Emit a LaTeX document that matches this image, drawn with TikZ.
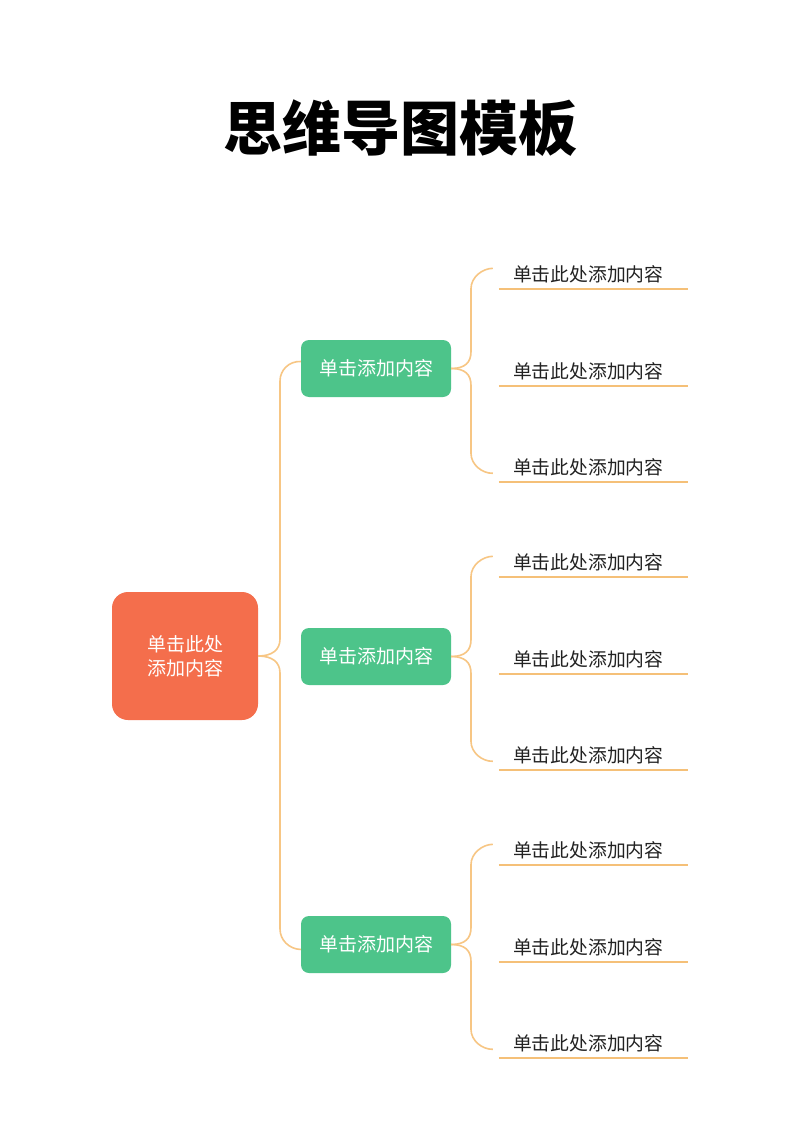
\documentclass[tikz,border=0pt]{standalone}
\usepackage{fontspec}
\setmainfont{Noto Sans CJK SC}
\usetikzlibrary{calc}
\definecolor{rootc}{HTML}{F46E4C}
\definecolor{greenc}{HTML}{4DC48A}
\definecolor{connc}{HTML}{F7C684}
\definecolor{linec}{HTML}{F5C078}
\definecolor{leaftext}{HTML}{222222}
\begin{document}
\begin{tikzpicture}[x=1pt,y=-1pt,
  titlestyle/.style={font=\fontsize{59}{64}\selectfont\bfseries, text=black, inner sep=0pt},
  rootbox/.style={fill=rootc, rounded corners=16pt, minimum width=146pt, minimum height=128pt,
    inner sep=0pt, text=white, align=center, font=\fontsize{19}{24}\selectfont},
  greenbox/.style={fill=greenc, rounded corners=8pt, minimum width=150pt, minimum height=57pt,
    inner sep=0pt, text=white, font=\fontsize{19}{24}\selectfont},
  leafbox/.style={anchor=south, minimum height=29pt, text width=161pt, inner xsep=14pt, inner ysep=0pt,
    align=left, text=leaftext, font=\fontsize{18.8}{22}\selectfont},
  conn/.style={draw=connc, line width=1.6pt},
  uline/.style={draw=linec, line width=1.6pt}]
\useasboundingbox (0,0) rectangle (800,1131);
\fill[white] (0,0) rectangle (800,1131);

\node[titlestyle] (title) at (400,128) {思维导图模板};

\node[rootbox] (root) at (185,656) {单击此处\\添加内容};

\foreach \i/\c in {1/368.5, 2/656.5, 3/944.5} {
  \node[greenbox] (g\i) at (376,\c) {单击添加内容};
  \node[leafbox] (l\i a) at (593.5,\c-79.5) {单击此处添加内容};
  \node[leafbox] (l\i b) at (593.5,\c+17.5) {单击此处添加内容};
  \node[leafbox] (l\i c) at (593.5,\c+113.5) {单击此处添加内容};
  \draw[uline] (l\i a.south west) -- (l\i a.south east);
  \draw[uline] (l\i b.south west) -- (l\i b.south east);
  \draw[uline] (l\i c.south west) -- (l\i c.south east);
  \coordinate (e\i a) at ([xshift=-6pt,yshift=6pt]l\i a.west);
  \coordinate (e\i c) at ([xshift=-6pt,yshift=-6pt]l\i c.west);
  \draw[conn] (g\i.east) .. controls (465,\c) and (471,\c-6) .. (471,\c-17)
     -- (471,\c-80) .. controls (471,\c-91) and (482,\c-100) .. (e\i a);
  \draw[conn] (g\i.east) .. controls (465,\c) and (471,\c+6) .. (471,\c+17)
     -- (471,\c+85) .. controls (471,\c+96) and (482,\c+105) .. (e\i c);
}

\coordinate (r1) at ([yshift=7pt]g1.west);
\coordinate (r3) at ([yshift=-5pt]g3.west);
\draw[conn] (root.east) .. controls (272,656) and (280,650) .. (280,639)
   -- (280,381) .. controls (280,370) and (289,361) .. (r1);
\draw[conn] (root.east) .. controls (272,656) and (280,662) .. (280,673)
   -- (280,929) .. controls (280,940) and (289,949) .. (r3);
\end{tikzpicture}
\end{document}
